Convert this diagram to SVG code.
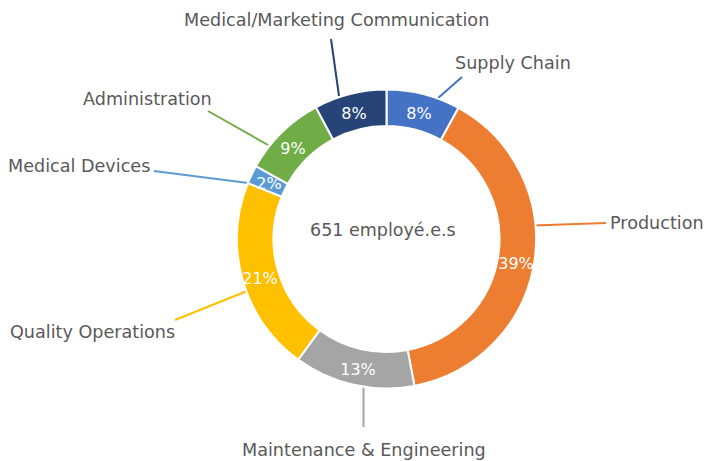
<svg xmlns="http://www.w3.org/2000/svg" width="706" height="461" viewBox="0 0 706 461">
<style>
.seg{stroke:#fff;stroke-width:2;stroke-linejoin:miter}
.lbl{font-family:"DejaVu Sans",Verdana,sans-serif;font-size:17.6px;fill:#595959}
.pct{font-family:"DejaVu Sans",Verdana,sans-serif;font-size:16px;fill:#fff;text-anchor:middle}
.ctr{font-family:"DejaVu Sans",Verdana,sans-serif;font-size:17.5px;fill:#595959}
.ld{fill:none;stroke-width:2}
</style>
<rect width="706" height="461" fill="#fff"/>
<g id="connectors">
<line class="ld" x1="331" y1="39" x2="339" y2="96" stroke="#264478"/>
<line class="ld" x1="462" y1="77" x2="437" y2="99" stroke="#4472C4"/>
<line class="ld" x1="533" y1="225.5" x2="606" y2="223" stroke="#ED7D31"/>
<line class="ld" x1="363.5" y1="385" x2="363.5" y2="427" stroke="#A5A5A5"/>
<line class="ld" x1="175" y1="320" x2="247" y2="291" stroke="#FFC000"/>
<line class="ld" x1="154" y1="171" x2="256" y2="184" stroke="#5B9BD5"/>
<line class="ld" x1="208" y1="111" x2="268" y2="145" stroke="#70AD47"/>
</g>
<g id="supply-chain">
<path class="seg" fill="#4472C4" d="M386.5,89.5 A149.5,149.5 0 0 1 458.43,107.93 L440.86,139.93 A113,113 0 0 0 386.5,126 Z"/>
<text class="pct" x="419" y="118.5">8%</text>
<text class="lbl" x="455" y="69">Supply Chain</text>
</g>
<g id="production">
<path class="seg" fill="#ED7D31" d="M458.43,107.93 A149.5,149.5 0 0 1 414.46,385.87 L407.63,350.01 A113,113 0 0 0 440.86,139.93 Z"/>
<text class="pct" x="516" y="268.5">39%</text>
<text class="lbl" x="610" y="229">Production</text>
</g>
<g id="maintenance">
<path class="seg" fill="#A5A5A5" d="M414.46,385.87 A149.5,149.5 0 0 1 298.15,359.6 L319.72,330.16 A113,113 0 0 0 407.63,350.01 Z"/>
<text class="pct" x="358" y="375">13%</text>
<text class="lbl" x="242" y="456">Maintenance &amp; Engineering</text>
</g>
<g id="quality">
<path class="seg" fill="#FFC000" d="M298.15,359.6 A149.5,149.5 0 0 1 247.87,183.06 L281.72,196.72 A113,113 0 0 0 319.72,330.16 Z"/>
<text class="pct" x="260" y="284">21%</text>
<text class="lbl" x="10" y="338">Quality Operations</text>
</g>
<g id="medical-devices">
<path class="seg" fill="#5B9BD5" d="M247.87,183.06 A149.5,149.5 0 0 1 255.96,166.13 L287.83,183.92 A113,113 0 0 0 281.72,196.72 Z"/>
<text class="pct" x="269" y="189">2%</text>
<text class="lbl" x="8" y="172">Medical Devices</text>
</g>
<g id="administration">
<path class="seg" fill="#70AD47" d="M255.96,166.13 A149.5,149.5 0 0 1 315.85,107.25 L333.1,139.41 A113,113 0 0 0 287.83,183.92 Z"/>
<text class="pct" x="293" y="154">9%</text>
<text class="lbl" x="83" y="105">Administration</text>
</g>
<g id="med-mkt-communication">
<path class="seg" fill="#264478" d="M315.85,107.25 A149.5,149.5 0 0 1 386.5,89.5 L386.5,126 A113,113 0 0 0 333.1,139.41 Z"/>
<text class="pct" x="354" y="118.5">8%</text>
<text class="lbl" x="184" y="26">Medical/Marketing Communication</text>
</g>
<g id="center">
<text class="ctr" x="310" y="236">651 employé.e.s</text>
</g>
</svg>
